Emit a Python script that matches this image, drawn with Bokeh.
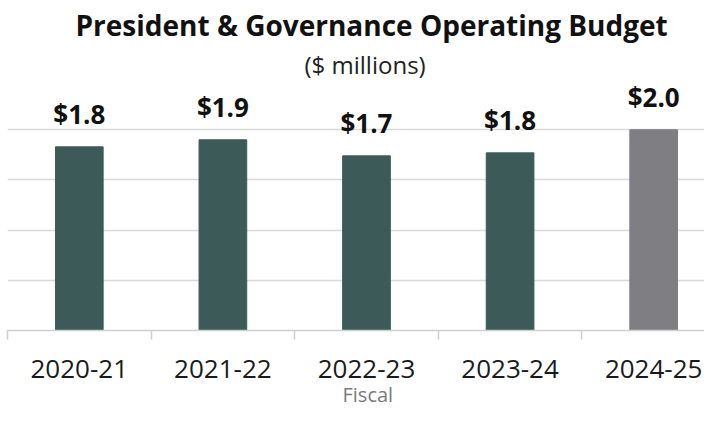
from bokeh.plotting import figure
from bokeh.models import Range1d, FixedTicker, Title, ColumnDataSource
from bokeh.core.properties import value
from bokeh.embed import file_html
from bokeh.resources import INLINE

years = ["2020-21", "2021-22", "2022-23", "2023-24", "2024-25"]
budget = [1.83, 1.90, 1.74, 1.77, 2.00]
bar_colors = ["#3c5a57", "#3c5a57", "#3c5a57", "#3c5a57", "#7f7e83"]

positions = [i + 0.5 for i in range(len(years))]
labels = [f"${v:.1f}" for v in budget]
src = ColumnDataSource(dict(x=positions, top=budget, color=bar_colors, label=labels))

FONT = "Open Sans"

p = figure(width=704, height=406, output_backend="svg", toolbar_location=None,
           x_range=Range1d(0.0, 4.854), y_range=Range1d(0, 2.491),
           min_border_left=7, min_border_right=0, min_border_top=80, min_border_bottom=76,
           title=None)

p.vbar(x="x", top="top", width=0.332, color="color", source=src)
p.text(x="x", y="top", text="label", source=src,
       text_font=value(FONT), text_font_style="bold", text_font_size="26px",
       text_align="center", text_baseline="alphabetic", y_offset=-33, text_color="#111111")

p.add_layout(Title(text="($ millions)", align="left", offset=297, text_font=FONT,
                   text_font_size="24px", text_font_style="normal",
                   text_color="#222222", standoff=-1), "above")
p.add_layout(Title(text="President & Governance Operating Budget", align="left", offset=68,
                   text_font=FONT, text_font_size="28px", text_font_style="bold",
                   text_color="#111111", standoff=6), "above")

xa = p.xaxis[0]
xa.ticker = FixedTicker(ticks=positions, minor_ticks=[0, 1, 2, 3, 4, 5])
xa.major_label_overrides = {pos: y for pos, y in zip(positions, years)}
xa.major_tick_out = 0
xa.major_tick_in = 0
xa.minor_tick_out = 9
xa.minor_tick_in = 0
xa.minor_tick_line_color = "#cfcfcf"
xa.minor_tick_line_width = 1.5
xa.axis_line_color = "#cfcfcf"
xa.axis_line_width = 1.5
xa.major_label_text_font = FONT
xa.major_label_text_font_size = "26px"
xa.major_label_text_color = "#1a1a1a"
xa.major_label_standoff = 20

p.add_layout(Title(text="Fiscal", align="left", offset=335, vertical_align="bottom",
                   text_font=FONT, text_font_size="20px", text_font_style="normal",
                   text_color="#7a7a7a", standoff=-4), "below")

p.yaxis.visible = False
p.xgrid.visible = False
p.ygrid.ticker = FixedTicker(ticks=[0.5, 1.0, 1.5, 2.0])
p.ygrid.grid_line_color = "#d9d9d9"
p.ygrid.grid_line_width = 1.5
p.outline_line_color = None
p.background_fill_color = "white"
p.border_fill_color = "white"

open("out.html", "w").write(file_html(p, INLINE))
